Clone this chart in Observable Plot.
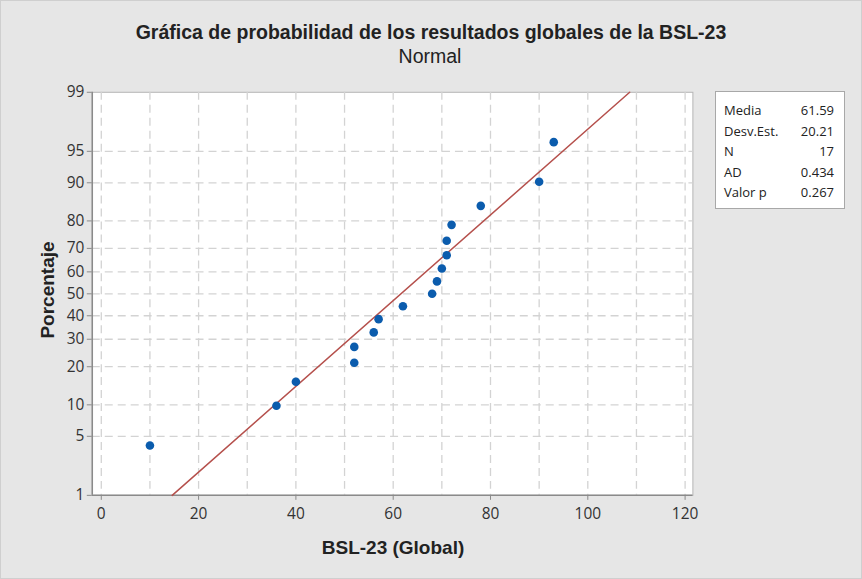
<!DOCTYPE html>
<html><head><meta charset="utf-8">
<script src="https://cdn.jsdelivr.net/npm/d3@7"></script>
<script src="https://cdn.jsdelivr.net/npm/@observablehq/plot@0.6"></script>
<style>
body{margin:0;background:#fff;}
#wrap{position:relative;width:860px;height:577px;background:#e6e6e6;border:1px solid #cfcfcf;overflow:hidden;font-family:"Liberation Sans",Arial,sans-serif;}
#wrap svg{position:absolute;left:-1px;top:-1px;}
.t{position:absolute;white-space:nowrap;color:#222;line-height:1;}
#legend{position:absolute;left:714px;top:90px;width:130px;height:118px;background:#fff;border:1px solid #a8a8a8;box-sizing:border-box;font-family:"Open Sans",sans-serif;font-size:13px;color:#222;line-height:1;}
#legend div{position:absolute;left:8px;right:10px;height:16px;}
#legend span.v{position:absolute;right:0;}
</style></head>
<body><div id="wrap"></div>
<script>
const bslGlobal = [10, 36, 40, 52, 52, 56, 57, 62, 68, 69, 70, 71, 71, 72, 78, 90, 93];
const percentRank = [4.0, 9.8, 15.5, 21.3, 27.0, 32.8, 38.5, 44.3, 50.0, 55.7, 61.5, 67.2, 73.0, 78.7, 84.5, 90.2, 96.0];
const yTickLabels = [1, 5, 10, 20, 30, 40, 50, 60, 70, 80, 90, 95, 99];
const xTickLabels = [0, 20, 40, 60, 80, 100, 120];
const xGrid = [0, 10, 20, 30, 40, 50, 60, 70, 80, 90, 100, 110, 120];
const statNames = ["Media", "Desv.Est.", "N", "AD", "Valor p"];
const statValues = ["61.59", "20.21", "17", "0.434", "0.267"];
const fitMean = [61.59];
const fitSd = [20.21];
const fitEnds = [1, 99];

// inverse normal CDF (Acklam)
function probit(p){
  const a=[-3.969683028665376e+01,2.209460984245205e+02,-2.759285104469687e+02,1.383577518672690e+02,-3.066479806614716e+01,2.506628277459239e+00];
  const b=[-5.447609879822406e+01,1.615858368580409e+02,-1.556989798598866e+02,6.680131188771972e+01,-1.328068155288572e+01];
  const c=[-7.784894002430293e-03,-3.223964580411365e-01,-2.400758277161838e+00,-2.549732539343734e+00,4.374664141464968e+00,2.938163982698783e+00];
  const d=[7.784695709041462e-03,3.224671290700398e-01,2.445134137142996e+00,3.754408661907416e+00];
  const pl=0.02425, ph=1-pl; let q,r;
  if(p<pl){q=Math.sqrt(-2*Math.log(p));return (((((c[0]*q+c[1])*q+c[2])*q+c[3])*q+c[4])*q+c[5])/((((d[0]*q+d[1])*q+d[2])*q+d[3])*q+1);}
  if(p>ph){q=Math.sqrt(-2*Math.log(1-p));return -(((((c[0]*q+c[1])*q+c[2])*q+c[3])*q+c[4])*q+c[5])/((((d[0]*q+d[1])*q+d[2])*q+d[3])*q+1);}
  q=p-0.5;r=q*q;return (((((a[0]*r+a[1])*r+a[2])*r+a[3])*r+a[4])*r+a[5])*q/(((((b[0]*r+b[1])*r+b[2])*r+b[3])*r+b[4])*r+1);
}
const z = v => probit(v/100);
const points = bslGlobal.map((x,i)=>({x, y: z(percentRank[i])}));
const fitLine = fitEnds.map(p=>({x: fitMean[0] + fitSd[0]*probit(p/100), y: z(p)}));
const yTicks = yTickLabels.map(z);
const labelMap = new Map(yTickLabels.map(v=>[z(v).toFixed(6), v]));
const gridYVals = yTickLabels.filter(v=>v>1 && v<99).map(z);

const chart = Plot.plot({
  width: 862, height: 579,
  marginLeft: 92, marginRight: 168, marginTop: 92, marginBottom: 83,
  style: {background: "transparent", fontFamily: "'Open Sans', sans-serif", fontSize: "15.5px", color: "#333"},
  x: {domain: [-1.85, 121.6], label: null},
  y: {domain: [probit(0.01), probit(0.99)], label: null},
  marks: [
    Plot.frame({fill: "white", stroke: "#b4b4b4"}),
    Plot.ruleX(xGrid, {stroke: "#d3d3d3", strokeDasharray: "8,5", strokeWidth: 1.3}),
    Plot.ruleY(gridYVals, {stroke: "#d3d3d3", strokeDasharray: "8,5", strokeWidth: 1.3}),
    Plot.axisX({ticks: xTickLabels, tickSize: 5, tickPadding: 8, stroke: "#8a8a8a", fill: "#333", fontSize: 15.5}),
    Plot.axisY({ticks: yTicks, tickSize: 5, tickPadding: 3, stroke: "#8a8a8a", fill: "#333", fontSize: 15.5, tickFormat: d => labelMap.get(d.toFixed(6))}),
    Plot.ruleX([-1.85], {stroke: "#8a8a8a", strokeWidth: 1.5}),
    Plot.ruleY([probit(0.01)], {stroke: "#8a8a8a", strokeWidth: 1.5}),
    Plot.line(fitLine, {x: "x", y: "y", stroke: "#b5504c", strokeWidth: 1.5}),
    Plot.dot(points, {x: "x", y: "y", r: 4.3, fill: "#0b5cad", stroke: "none"})
  ]
});
const wrap = document.getElementById("wrap");
wrap.appendChild(chart);

function addText(txt, css){const e=document.createElement("div");e.className="t";e.textContent=txt;Object.assign(e.style,css);wrap.appendChild(e);return e;}
addText("Gráfica de probabilidad de los resultados globales de la BSL-23",{left:"0",width:"860px",textAlign:"center",top:"22px",fontSize:"19.5px",fontWeight:"bold"});
addText("Normal",{left:"0",width:"858px",textAlign:"center",top:"46px",fontSize:"19.5px"});
addText("BSL-23 (Global)",{left:"92px",width:"600px",textAlign:"center",top:"537px",fontSize:"19px",fontWeight:"bold"});
addText("Porcentaje",{left:"46px",top:"289px",fontSize:"19px",fontWeight:"bold",transform:"translate(-50%,-50%) rotate(-90deg)"});

const lg = document.createElement("div"); lg.id="legend"; wrap.appendChild(lg);
statNames.forEach((n,i)=>{
  const row=document.createElement("div"); row.style.top=(12+i*20.5)+"px";
  row.innerHTML = `<span>${n}</span><span class="v">${statValues[i]}</span>`;
  lg.appendChild(row);
});
</script></body></html>
